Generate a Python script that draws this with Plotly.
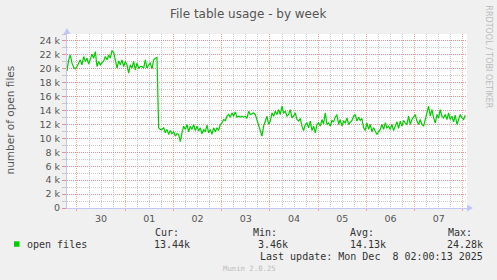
import plotly.graph_objects as go
import pandas as pd

# ---------------- data ----------------
series_name = "open files"
first_sample = "2025-11-29 19:02"
last_sample = "2025-12-08 01:08"
range_start = "2025-11-29 19:02"
range_end = "2025-12-08 02:00"

# open files, in thousands, one sample every ~50 minutes
open_files_k = [
    19.71, 21.29, 22.0, 20.81, 20.19, 20.0, 20.33, 20.81, 21.29, 20.57,
    21.76, 21.05, 21.52, 20.67, 21.29, 22.1, 21.52, 22.48, 20.33, 21.05,
    20.57, 20.95, 21.14, 21.76, 21.29, 22.0, 21.52, 22.57, 22.38, 21.29,
    20.1, 21.14, 20.57, 21.29, 20.33, 21.05, 20.57, 19.38, 20.57, 20.1,
    21.05, 19.86, 20.81, 20.1, 20.33, 20.33, 20.1, 21.29, 20.1, 20.57,
    20.81, 20.0, 21.29, 21.52, 21.62, 11.52, 11.29, 11.29, 11.52, 10.81,
    11.29, 10.57, 11.14, 10.67, 10.95, 10.33, 10.67, 10.57, 9.52, 10.81,
    11.76, 11.29, 12.0, 10.95, 11.76, 11.29, 12.0, 11.14, 11.76, 11.05,
    11.52, 10.67, 11.29, 10.95, 11.9, 10.81, 11.29, 10.57, 11.52, 10.95,
    11.52, 11.14, 12.0, 12.24, 12.71, 12.57, 13.19, 13.43, 13.05, 13.67,
    13.19, 13.81, 13.05, 13.19, 13.05, 13.19, 13.05, 13.19, 12.86, 13.9,
    13.43, 13.52, 13.67, 13.43, 12.71, 12.0, 11.05, 10.33, 11.76, 12.48,
    13.19, 12.0, 12.48, 13.67, 13.19, 13.9, 13.43, 14.14, 13.43, 14.62,
    13.67, 13.9, 13.19, 13.43, 14.14, 12.95, 13.19, 13.67, 12.71, 12.48,
    12.86, 11.76, 11.14, 12.0, 12.24, 11.52, 12.48, 11.14, 11.76, 10.81,
    12.0, 12.24, 11.76, 12.71, 12.1, 13.67, 12.0, 12.24, 11.76, 12.57,
    12.38, 13.05, 13.43, 12.0, 12.71, 11.76, 12.48, 12.24, 12.95, 12.0,
    12.38, 12.57, 13.19, 13.43, 12.48, 13.05, 12.57, 12.86, 11.52, 11.14,
    12.24, 11.29, 12.0, 10.95, 11.52, 11.14, 10.57, 10.95, 11.29, 12.0,
    11.29, 12.24, 11.52, 11.76, 11.29, 12.0, 11.14, 11.76, 12.38, 11.43,
    12.48, 11.76, 12.57, 12.24, 12.0, 13.19, 12.0, 12.71, 13.19, 13.43,
    12.48, 12.0, 12.71, 12.0, 11.76, 12.71, 13.9, 14.62, 13.19, 14.14,
    12.95, 12.24, 13.43, 12.95, 14.14, 13.19, 12.95, 13.43, 12.71, 13.67,
    12.71, 13.19, 12.38, 13.33, 12.0, 12.9, 13.43, 12.95, 12.71, 13.33,
]

y_tick_values = [0, 2000, 4000, 6000, 8000, 10000, 12000, 14000, 16000, 18000, 20000, 22000, 24000]
y_tick_text = ["0", "2 k", "4 k", "6 k", "8 k", "10 k", "12 k", "14 k", "16 k", "18 k", "20 k", "22 k", "24 k"]

stat_labels = ["Cur:", "Min:", "Avg:", "Max:"]
stat_values = ["13.44k", "3.46k", "14.13k", "24.28k"]

title_text = "File table usage - by week"
y_title = "number of open files"
last_update = "Last update: Mon Dec \u00a08 02:00:13 2025"
footer = "Munin 2.0.25"
side_text = "RRDTOOL / TOBI OETIKER"

# ---------------- layout geometry ----------------
W, H = 497, 280
PL, PR, PT, PB = 67, 467, 33.5, 208.5


def px(x):
    return (x - PL) / (PR - PL)


def py(y):
    return (PB - y) / (PB - PT)


times = pd.date_range(first_sample, last_sample, periods=len(open_files_k))
open_files = [v * 1000 for v in open_files_k]

MONO = "DejaVu Sans Mono"
SANS = "DejaVu Sans"
MAJOR = "rgba(242,120,120,0.7)"
MINOR = "rgba(175,175,175,0.65)"
AXIS = "#c2c6f4"

fig = go.Figure()
fig.add_trace(go.Scatter(
    x=times, y=open_files, mode="lines", name=series_name,
    line=dict(color="#00cc00", width=1.2), showlegend=False,
))

fig.update_layout(
    width=W, height=H,
    margin=dict(l=PL, r=W - PR, t=PT, b=H - PB, pad=0),
    paper_bgcolor="#f0f0f0", plot_bgcolor="#ffffff",
    font=dict(family=SANS, color="#555555", size=10),
    showlegend=False,
)

fig.update_xaxes(
    type="date", range=[range_start, range_end],
    tick0="2025-11-30", dtick=86400000, tickformat="%d", ticklabelmode="period",
    showgrid=True, gridcolor=MAJOR, griddash="1px,1px", gridwidth=1,
    ticks="outside", ticklen=2, tickcolor=MAJOR,
    tickfont=dict(family=SANS, size=9.5, color="#555555"),
    minor=dict(dtick=6 * 3600 * 1000, showgrid=True, gridcolor=MINOR,
               griddash="1px,1px", ticks="", ticklen=0),
    showline=True, linecolor=AXIS, linewidth=1, zeroline=False,
    fixedrange=True,
)

fig.update_yaxes(
    range=[0, 25000], tickmode="array", tickvals=y_tick_values, ticktext=y_tick_text,
    showgrid=True, gridcolor=MAJOR, griddash="1px,1px", gridwidth=1,
    ticks="outside", ticklen=4, tickcolor=MAJOR,
    tickfont=dict(family=SANS, size=9.5, color="#555555"),
    minor=dict(tickmode="linear", tick0=0, dtick=1000, showgrid=True, gridcolor=MINOR,
               griddash="1px,1px", ticks="outside", ticklen=4, tickcolor=MINOR),
    showline=True, linecolor=AXIS, linewidth=1, zeroline=False,
    title=None,
    fixedrange=True,
)

ann = []
ann.append(dict(x=px(248), y=py(13.5), text=title_text, showarrow=False,
                xanchor="center", yanchor="middle",
                font=dict(family=SANS, size=12, color="#555555")))
ann.append(dict(x=px(489), y=py(56), text=side_text, showarrow=False, textangle=90,
                xanchor="center", yanchor="middle",
                font=dict(family=SANS, size=8, color="#bbbbbb")))
ann.append(dict(x=px(10.5), y=py(120), text=y_title, showarrow=False, textangle=-90,
                xanchor="center", yanchor="middle",
                font=dict(family=SANS, size=10.5, color="#555555")))
ann.append(dict(x=px(25), y=py(245.7), text=series_name, showarrow=False,
                xanchor="left", yanchor="middle",
                font=dict(family=MONO, size=10, color="#333333")))
stat_label_x = [153, 251, 348, 446]
stat_value_right = [192, 290, 387.5, 485]
for lab, val, lx, vr in zip(stat_labels, stat_values, stat_label_x, stat_value_right):
    ann.append(dict(x=px(lx), y=py(233.3), text=lab, showarrow=False,
                    xanchor="left", yanchor="middle",
                    font=dict(family=MONO, size=10, color="#333333")))
    ann.append(dict(x=px(vr), y=py(245.7), text=val, showarrow=False,
                    xanchor="right", yanchor="middle",
                    font=dict(family=MONO, size=10, color="#333333")))
ann.append(dict(x=px(485), y=py(257.7), text=last_update, showarrow=False,
                xanchor="right", yanchor="middle",
                font=dict(family=MONO, size=10, color="#333333")))
ann.append(dict(x=px(249), y=py(269.3), text=footer, showarrow=False,
                xanchor="center", yanchor="middle",
                font=dict(family=MONO, size=7.3, color="#bbbbbb")))
for a in ann:
    a["xref"] = "paper"
    a["yref"] = "paper"
fig.update_layout(annotations=ann)

shapes = [
    # legend colour box
    dict(type="rect", xref="paper", yref="paper", x0=px(14), x1=px(19.5),
         y0=py(247.5), y1=py(242), fillcolor="#00cc00", line=dict(width=0)),
    # arrow at top of y axis
    dict(type="path", xref="paper", yref="paper", xsizemode="pixel", ysizemode="pixel",
         xanchor=px(PL), yanchor=py(PT),
         path="M -3.5,0 L 3.5,0 L 0,6 Z", fillcolor=AXIS, line=dict(width=0)),
    # arrow at right of x axis
    dict(type="path", xref="paper", yref="paper", xsizemode="pixel", ysizemode="pixel",
         xanchor=px(PR), yanchor=py(PB),
         path="M 0,3.5 L 0,-3.5 L 6,0 Z", fillcolor=AXIS, line=dict(width=0)),
]
fig.update_layout(shapes=shapes)

fig.write_html("out.html")
